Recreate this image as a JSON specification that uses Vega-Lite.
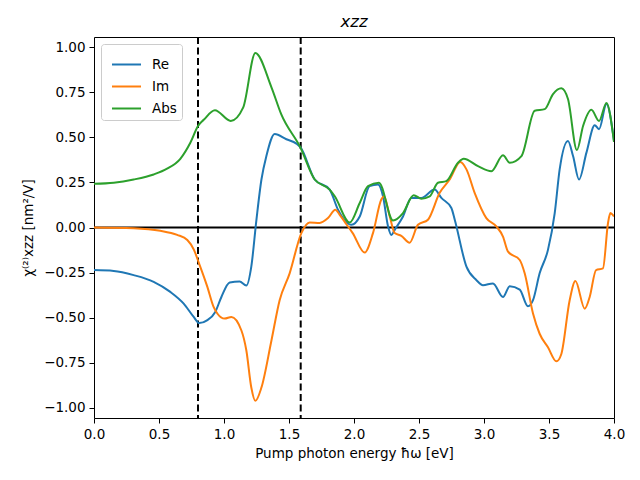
{
  "$schema": "https://vega.github.io/schema/vega-lite/v6.json",
  "width": 520,
  "height": 381,
  "autosize": {"type": "none"},
  "padding": {"left": 94, "top": 37, "right": 26, "bottom": 62},
  "background": "white",
  "config": {
    "font": "DejaVu Sans",
    "view": {"stroke": "black", "strokeWidth": 1},
    "axis": {"grid": false, "domain": false, "tickColor": "black", "tickSize": 5, "labelColor": "black", "labelFontSize": 13.5, "titleFontSize": 13.5, "titleFontWeight": "normal", "titleColor": "black", "labelFont": "DejaVu Sans", "titleFont": "DejaVu Sans", "labelFlush": false, "labelOverlap": false}
  },
  "title": {"text": "xzz", "fontStyle": "italic", "fontWeight": "normal", "fontSize": 16.5, "font": "DejaVu Sans", "offset": 6, "color": "black"},
  "datasets": {
    "curves": [
      {"x": 0, "y": -0.236, "s": "Re"}, {"x": 0.152, "y": -0.241, "s": "Re"}, {"x": 0.305, "y": -0.264, "s": "Re"}, {"x": 0.459, "y": -0.301, "s": "Re"}, {"x": 0.587, "y": -0.357, "s": "Re"}, {"x": 0.69, "y": -0.422, "s": "Re"}, {"x": 0.767, "y": -0.496, "s": "Re"}, {"x": 0.81, "y": -0.53, "s": "Re"}, {"x": 0.869, "y": -0.515, "s": "Re"}, {"x": 0.933, "y": -0.468, "s": "Re"}, {"x": 0.98, "y": -0.385, "s": "Re"}, {"x": 1.044, "y": -0.305, "s": "Re"}, {"x": 1.12, "y": -0.3, "s": "Re"}, {"x": 1.172, "y": -0.322, "s": "Re"}, {"x": 1.21, "y": -0.217, "s": "Re"}, {"x": 1.249, "y": 0.04, "s": "Re"}, {"x": 1.288, "y": 0.266, "s": "Re"}, {"x": 1.326, "y": 0.396, "s": "Re"}, {"x": 1.39, "y": 0.518, "s": "Re"}, {"x": 1.48, "y": 0.489, "s": "Re"}, {"x": 1.557, "y": 0.465, "s": "Re"}, {"x": 1.59, "y": 0.443, "s": "Re"}, {"x": 1.698, "y": 0.266, "s": "Re"}, {"x": 1.813, "y": 0.21, "s": "Re"}, {"x": 1.877, "y": 0.099, "s": "Re"}, {"x": 1.98, "y": 0.015, "s": "Re"}, {"x": 2.044, "y": 0.061, "s": "Re"}, {"x": 2.12, "y": 0.229, "s": "Re"}, {"x": 2.185, "y": 0.238, "s": "Re"}, {"x": 2.223, "y": 0.173, "s": "Re"}, {"x": 2.262, "y": 0.006, "s": "Re"}, {"x": 2.288, "y": -0.041, "s": "Re"}, {"x": 2.313, "y": -0.013, "s": "Re"}, {"x": 2.377, "y": 0.061, "s": "Re"}, {"x": 2.441, "y": 0.164, "s": "Re"}, {"x": 2.518, "y": 0.164, "s": "Re"}, {"x": 2.62, "y": 0.21, "s": "Re"}, {"x": 2.672, "y": 0.164, "s": "Re"}, {"x": 2.749, "y": 0.108, "s": "Re"}, {"x": 2.775, "y": 0.043, "s": "Re"}, {"x": 2.865, "y": -0.217, "s": "Re"}, {"x": 2.942, "y": -0.292, "s": "Re"}, {"x": 2.992, "y": -0.32, "s": "Re"}, {"x": 3.069, "y": -0.31, "s": "Re"}, {"x": 3.146, "y": -0.385, "s": "Re"}, {"x": 3.198, "y": -0.325, "s": "Re"}, {"x": 3.275, "y": -0.344, "s": "Re"}, {"x": 3.338, "y": -0.437, "s": "Re"}, {"x": 3.377, "y": -0.403, "s": "Re"}, {"x": 3.428, "y": -0.254, "s": "Re"}, {"x": 3.492, "y": -0.124, "s": "Re"}, {"x": 3.544, "y": 0.08, "s": "Re"}, {"x": 3.582, "y": 0.322, "s": "Re"}, {"x": 3.646, "y": 0.48, "s": "Re"}, {"x": 3.685, "y": 0.396, "s": "Re"}, {"x": 3.731, "y": 0.266, "s": "Re"}, {"x": 3.788, "y": 0.415, "s": "Re"}, {"x": 3.852, "y": 0.567, "s": "Re"}, {"x": 3.885, "y": 0.545, "s": "Re"}, {"x": 3.942, "y": 0.684, "s": "Re"}, {"x": 4.0, "y": 0.48, "s": "Re"},

      {"x": 0, "y": 0, "s": "Im"}, {"x": 0.305, "y": -0.004, "s": "Im"}, {"x": 0.51, "y": -0.018, "s": "Im"}, {"x": 0.64, "y": -0.041, "s": "Im"}, {"x": 0.718, "y": -0.069, "s": "Im"}, {"x": 0.769, "y": -0.124, "s": "Im"}, {"x": 0.808, "y": -0.199, "s": "Im"}, {"x": 0.872, "y": -0.329, "s": "Im"}, {"x": 0.92, "y": -0.44, "s": "Im"}, {"x": 0.95, "y": -0.478, "s": "Im"}, {"x": 1.005, "y": -0.505, "s": "Im"}, {"x": 1.057, "y": -0.496, "s": "Im"}, {"x": 1.134, "y": -0.571, "s": "Im"}, {"x": 1.172, "y": -0.682, "s": "Im"}, {"x": 1.21, "y": -0.887, "s": "Im"}, {"x": 1.241, "y": -0.961, "s": "Im"}, {"x": 1.288, "y": -0.887, "s": "Im"}, {"x": 1.365, "y": -0.626, "s": "Im"}, {"x": 1.428, "y": -0.403, "s": "Im"}, {"x": 1.505, "y": -0.254, "s": "Im"}, {"x": 1.595, "y": -0.031, "s": "Im"}, {"x": 1.659, "y": 0.028, "s": "Im"}, {"x": 1.736, "y": 0.025, "s": "Im"}, {"x": 1.8, "y": 0.052, "s": "Im"}, {"x": 1.857, "y": 0.099, "s": "Im"}, {"x": 1.89, "y": 0.07, "s": "Im"}, {"x": 1.93, "y": 0.03, "s": "Im"}, {"x": 1.99, "y": -0.031, "s": "Im"}, {"x": 2.082, "y": -0.139, "s": "Im"}, {"x": 2.146, "y": -0.031, "s": "Im"}, {"x": 2.21, "y": 0.155, "s": "Im"}, {"x": 2.231, "y": 0.173, "s": "Im"}, {"x": 2.275, "y": 0.061, "s": "Im"}, {"x": 2.313, "y": -0.031, "s": "Im"}, {"x": 2.364, "y": -0.046, "s": "Im"}, {"x": 2.428, "y": -0.084, "s": "Im"}, {"x": 2.492, "y": 0.015, "s": "Im"}, {"x": 2.569, "y": 0.043, "s": "Im"}, {"x": 2.659, "y": 0.192, "s": "Im"}, {"x": 2.736, "y": 0.266, "s": "Im"}, {"x": 2.818, "y": 0.363, "s": "Im"}, {"x": 2.865, "y": 0.322, "s": "Im"}, {"x": 2.928, "y": 0.192, "s": "Im"}, {"x": 3.018, "y": 0.052, "s": "Im"}, {"x": 3.095, "y": 0.006, "s": "Im"}, {"x": 3.146, "y": -0.05, "s": "Im"}, {"x": 3.185, "y": -0.134, "s": "Im"}, {"x": 3.275, "y": -0.18, "s": "Im"}, {"x": 3.313, "y": -0.254, "s": "Im"}, {"x": 3.377, "y": -0.477, "s": "Im"}, {"x": 3.428, "y": -0.589, "s": "Im"}, {"x": 3.492, "y": -0.664, "s": "Im"}, {"x": 3.557, "y": -0.742, "s": "Im"}, {"x": 3.595, "y": -0.701, "s": "Im"}, {"x": 3.659, "y": -0.403, "s": "Im"}, {"x": 3.703, "y": -0.297, "s": "Im"}, {"x": 3.775, "y": -0.45, "s": "Im"}, {"x": 3.813, "y": -0.385, "s": "Im"}, {"x": 3.862, "y": -0.236, "s": "Im"}, {"x": 3.915, "y": -0.227, "s": "Im"}, {"x": 3.954, "y": 0.025, "s": "Im"}, {"x": 3.972, "y": 0.08, "s": "Im"}, {"x": 4.0, "y": 0.061, "s": "Im"},

      {"x": 0, "y": 0.242, "s": "Abs"}, {"x": 0.152, "y": 0.248, "s": "Abs"}, {"x": 0.305, "y": 0.266, "s": "Abs"}, {"x": 0.459, "y": 0.294, "s": "Abs"}, {"x": 0.562, "y": 0.326, "s": "Abs"}, {"x": 0.664, "y": 0.381, "s": "Abs"}, {"x": 0.741, "y": 0.47, "s": "Abs"}, {"x": 0.8, "y": 0.563, "s": "Abs"}, {"x": 0.844, "y": 0.597, "s": "Abs"}, {"x": 0.93, "y": 0.65, "s": "Abs"}, {"x": 1.052, "y": 0.591, "s": "Abs"}, {"x": 1.148, "y": 0.666, "s": "Abs"}, {"x": 1.241, "y": 0.967, "s": "Abs"}, {"x": 1.365, "y": 0.777, "s": "Abs"}, {"x": 1.44, "y": 0.628, "s": "Abs"}, {"x": 1.588, "y": 0.443, "s": "Abs"}, {"x": 1.698, "y": 0.266, "s": "Abs"}, {"x": 1.813, "y": 0.21, "s": "Abs"}, {"x": 1.852, "y": 0.173, "s": "Abs"}, {"x": 1.967, "y": 0.028, "s": "Abs"}, {"x": 2.044, "y": 0.136, "s": "Abs"}, {"x": 2.108, "y": 0.229, "s": "Abs"}, {"x": 2.192, "y": 0.248, "s": "Abs"}, {"x": 2.3, "y": 0.039, "s": "Abs"}, {"x": 2.377, "y": 0.08, "s": "Abs"}, {"x": 2.459, "y": 0.179, "s": "Abs"}, {"x": 2.518, "y": 0.16, "s": "Abs"}, {"x": 2.582, "y": 0.173, "s": "Abs"}, {"x": 2.646, "y": 0.248, "s": "Abs"}, {"x": 2.71, "y": 0.257, "s": "Abs"}, {"x": 2.8, "y": 0.359, "s": "Abs"}, {"x": 2.844, "y": 0.381, "s": "Abs"}, {"x": 2.954, "y": 0.34, "s": "Abs"}, {"x": 3.057, "y": 0.312, "s": "Abs"}, {"x": 3.146, "y": 0.4, "s": "Abs"}, {"x": 3.198, "y": 0.359, "s": "Abs"}, {"x": 3.288, "y": 0.396, "s": "Abs"}, {"x": 3.39, "y": 0.647, "s": "Abs"}, {"x": 3.467, "y": 0.656, "s": "Abs"}, {"x": 3.531, "y": 0.74, "s": "Abs"}, {"x": 3.595, "y": 0.772, "s": "Abs"}, {"x": 3.646, "y": 0.712, "s": "Abs"}, {"x": 3.715, "y": 0.429, "s": "Abs"}, {"x": 3.762, "y": 0.563, "s": "Abs"}, {"x": 3.826, "y": 0.653, "s": "Abs"}, {"x": 3.885, "y": 0.591, "s": "Abs"}, {"x": 3.942, "y": 0.69, "s": "Abs"}, {"x": 4.0, "y": 0.474, "s": "Abs"}
    ],
    "vlines": [{"x": 0.8}, {"x": 1.59}],
    "hline": [{"y": 0}]
  },
  "layer": [
    {
      "data": {"name": "hline"},
      "mark": {"type": "rule", "color": "black", "strokeWidth": 2},
      "encoding": {"y": {"field": "y", "type": "quantitative", "scale": {"domain": [-1.056, 1.056]}}}
    },
    {
      "data": {"name": "vlines"},
      "mark": {"type": "rule", "color": "black", "strokeWidth": 2, "strokeDash": [7, 3.5]},
      "encoding": {"x": {"field": "x", "type": "quantitative", "scale": {"domain": [0, 4]}}}
    },
    {
      "data": {"name": "curves"},
      "mark": {"type": "line", "interpolate": "monotone", "strokeWidth": 2, "clip": true},
      "encoding": {
        "x": {"field": "x", "type": "quantitative", "scale": {"domain": [0, 4], "nice": false, "zero": false},
              "axis": {"title": "Pump photon energy ħω [eV]", "values": [0, 0.5, 1, 1.5, 2, 2.5, 3, 3.5, 4], "format": ".1f", "labelPadding": 4, "titlePadding": 6}},
        "y": {"field": "y", "type": "quantitative", "scale": {"domain": [-1.056, 1.056], "nice": false, "zero": false},
              "axis": {"title": "χ⁽²⁾xzz [nm²/V]", "values": [-1, -0.75, -0.5, -0.25, 0, 0.25, 0.5, 0.75, 1], "format": ".2f", "labelPadding": 4, "titlePadding": 8}},
        "color": {"field": "s", "type": "nominal", "scale": {"domain": ["Re", "Im", "Abs"], "range": ["#1f77b4", "#ff7f0e", "#2ca02c"]},
                  "legend": {"title": null, "orient": "none", "legendX": 7, "legendY": 7, "symbolType": "stroke", "symbolSize": 840, "symbolStrokeWidth": 2, "labelFontSize": 13.5, "labelColor": "black", "fillColor": "white", "strokeColor": "#cccccc", "cornerRadius": 3, "padding": 5, "rowPadding": -8, "labelOffset": 10, "symbolOffset": 5}},
        "order": {"field": "x", "type": "quantitative"}
      }
    }
  ]
}
